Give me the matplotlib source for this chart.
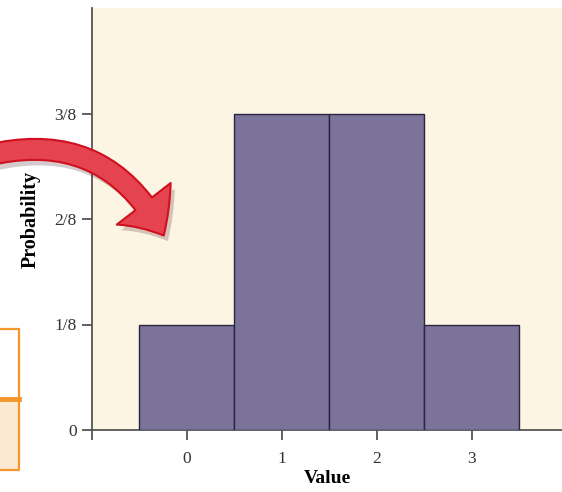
import matplotlib
matplotlib.use("Agg")
import matplotlib.pyplot as plt
from matplotlib.patches import FancyArrowPatch, Rectangle
from matplotlib.lines import Line2D
import matplotlib.patheffects as pe

values = [0, 1, 2, 3]
probs = [1/8, 3/8, 3/8, 1/8]
ytick_vals = [0, 1/8, 2/8, 3/8]
ytick_labels = ["0", "1/8", "2/8", "3/8"]
xtick_labels = ["0", "1", "2", "3"]

W, H = 562, 492
fig = plt.figure(figsize=(W/100, H/100), dpi=100)
fig.patch.set_facecolor("white")
plt.rcParams['font.family'] = ['Liberation Serif', 'DejaVu Serif']

ax = fig.add_axes([92/W, (H-430)/H, (W-92)/W, 422/H])
ax.set_facecolor("#fdf5e3")
ax.bar(values, probs, width=1.0, color="#7b7399", edgecolor="#2a2540", linewidth=1.0, zorder=3)
ax.set_xlim(-1, 3.95)
ax.set_ylim(0, 0.5)
for s in ["top", "right"]:
    ax.spines[s].set_visible(False)
for s in ["left", "bottom"]:
    ax.spines[s].set_color("#555555")
    ax.spines[s].set_linewidth(1.3)
ax.set_xticks([-1] + values)
ax.set_xticklabels([""] + xtick_labels)
ax.set_yticks(ytick_vals)
ax.set_yticklabels(ytick_labels)
ax.tick_params(axis="both", direction="out", length=7, width=1.3, color="#555555",
               labelsize=12.5, labelcolor="#333333")
ax.tick_params(axis="x", pad=8)
ax.tick_params(axis="y", pad=4)
ax.set_xlabel("Value", fontsize=14, fontweight="bold", labelpad=2)
ax.set_ylabel("Probability", fontsize=14.5, fontweight="bold", labelpad=10)

# partial table at lower left
def px(x, y):
    return (x / W, 1 - y / H)
tbl_color = "#f5962a"
fig.add_artist(Rectangle(px(-5, 470), 25/W, 70/H, transform=fig.transFigure,
                         facecolor="#fce9d4", edgecolor="none"))
fig.add_artist(Line2D([-5/W, 19/W, 19/W, -5/W], [1-329/H, 1-329/H, 1-470/H, 1-470/H],
                      transform=fig.transFigure, color=tbl_color, lw=1.6))
fig.add_artist(Line2D([-5/W, 19/W], [1-399/H, 1-399/H], transform=fig.transFigure,
                      color=tbl_color, lw=3.5))

# curved red arrow
arrow = FancyArrowPatch(px(-15, 156), px(165, 238), transform=fig.transFigure,
                        connectionstyle="arc3,rad=-0.40",
                        arrowstyle="simple,head_width=49,head_length=27,tail_width=15",
                        mutation_scale=1, facecolor="#e5434f", edgecolor="#d0101e",
                        linewidth=1.5, clip_on=False,
                        path_effects=[pe.SimplePatchShadow(offset=(3, -4), alpha=0.22), pe.Normal()])
fig.add_artist(arrow)

fig.savefig("out.png", dpi=100)
